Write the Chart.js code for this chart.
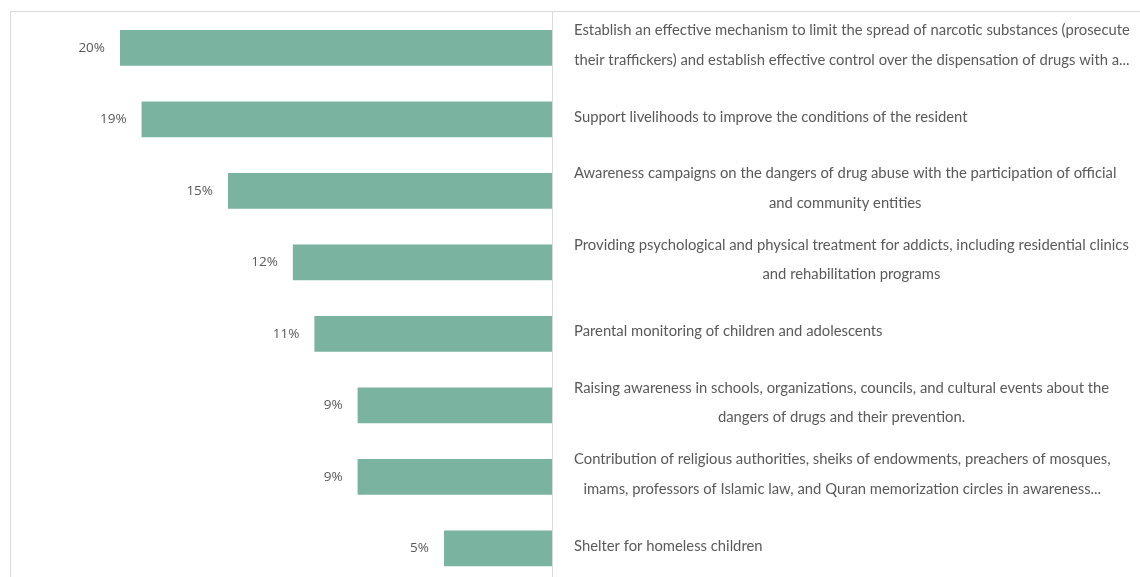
<!DOCTYPE html>
<html>
<head>
<meta charset="utf-8">
<script src="https://cdn.jsdelivr.net/npm/chart.js@4/dist/chart.umd.min.js"></script>
<style>
    body { margin: 0; overflow: hidden; background: #fff; }
    #frame {
        position: absolute;
        left: 10px;
        top: 11px;
        width: 1200px;
        height: 620px;
        border: 1px solid #d9d9d9;
    }
    #chart { display: block; }
</style>
</head>
<body>
<div id="frame">
    <canvas id="chart" width="1140" height="572"></canvas>
</div>
<script>
// each measure, split over the lines it is printed on
const measures = [
    ['Establish an effective mechanism to limit the spread of narcotic substances (prosecute',
     'their traffickers) and establish effective control over the dispensation of drugs with a...'],
    ['Support livelihoods to improve the conditions of the resident'],
    ['Awareness campaigns on the dangers of drug abuse with the participation of official',
     'and community entities'],
    ['Providing psychological and physical treatment for addicts, including residential clinics',
     'and rehabilitation programs'],
    ['Parental monitoring of children and adolescents'],
    ['Raising awareness in schools, organizations, councils, and cultural events about the',
     'dangers of drugs and their prevention.'],
    ['Contribution of religious authorities, sheiks of endowments, preachers of mosques,',
     'imams, professors of Islamic law, and Quran memorization circles in awareness...'],
    ['Shelter for homeless children']
];
const shares = [20, 19, 15, 12, 11, 9, 9, 5];
const scaleMax = 25;

const textGray = '#595959';

// percentage printed just left of each bar
const valueLabels = {
    id: 'valueLabels',
    afterDatasetsDraw(chart) {
        const ctx = chart.ctx;
        const meta = chart.getDatasetMeta(0);
        ctx.save();
        ctx.font = '13.5px "Open Sans", sans-serif';
        ctx.fillStyle = textGray;
        ctx.textAlign = 'right';
        ctx.textBaseline = 'middle';
        meta.data.forEach((bar, i) => {
            ctx.fillText(shares[i] + '%', bar.x - 15, bar.y);
        });
        ctx.restore();
    }
};

// measure names to the right of the axis, wrapped lines centred on each other
const measureLabels = {
    id: 'measureLabels',
    afterDraw(chart) {
        const ctx = chart.ctx;
        const yScale = chart.scales.y;
        const lineHeight = 29.5;
        ctx.save();
        ctx.font = '14.8px Lato, sans-serif';
        ctx.fillStyle = textGray;
        ctx.textAlign = 'center';
        ctx.textBaseline = 'middle';
        measures.forEach((lines, i) => {
            const y = yScale.getPixelForValue(i) - 2.5;
            const blockWidth = Math.max(...lines.map(l => ctx.measureText(l).width));
            const cx = yScale.left + 22 + blockWidth / 2;
            lines.forEach((line, j) => {
                ctx.fillText(line, cx, y + (j - (lines.length - 1) / 2) * lineHeight);
            });
        });
        ctx.restore();
    }
};

new Chart(document.getElementById('chart'), {
    type: 'bar',
    data: {
        labels: measures.map(lines => lines.join(' ')),
        datasets: [{
            data: shares,
            backgroundColor: '#7ab39f',
            borderWidth: 0,
            barPercentage: 0.5,
            categoryPercentage: 1
        }]
    },
    options: {
        indexAxis: 'y',
        responsive: false,
        animation: false,
        devicePixelRatio: 1,
        layout: {
            padding: { left: 1, right: 591, top: 0, bottom: 0 }
        },
        scales: {
            x: {
                display: false,
                reverse: true,
                min: 0,
                max: scaleMax
            },
            y: {
                position: 'right',
                grid: { display: false },
                ticks: { display: false },
                border: { display: true, color: '#d9d9d9', width: 1 }
            }
        },
        plugins: {
            legend: { display: false },
            tooltip: { enabled: false }
        }
    },
    plugins: [valueLabels, measureLabels]
});
</script>
</body>
</html>
